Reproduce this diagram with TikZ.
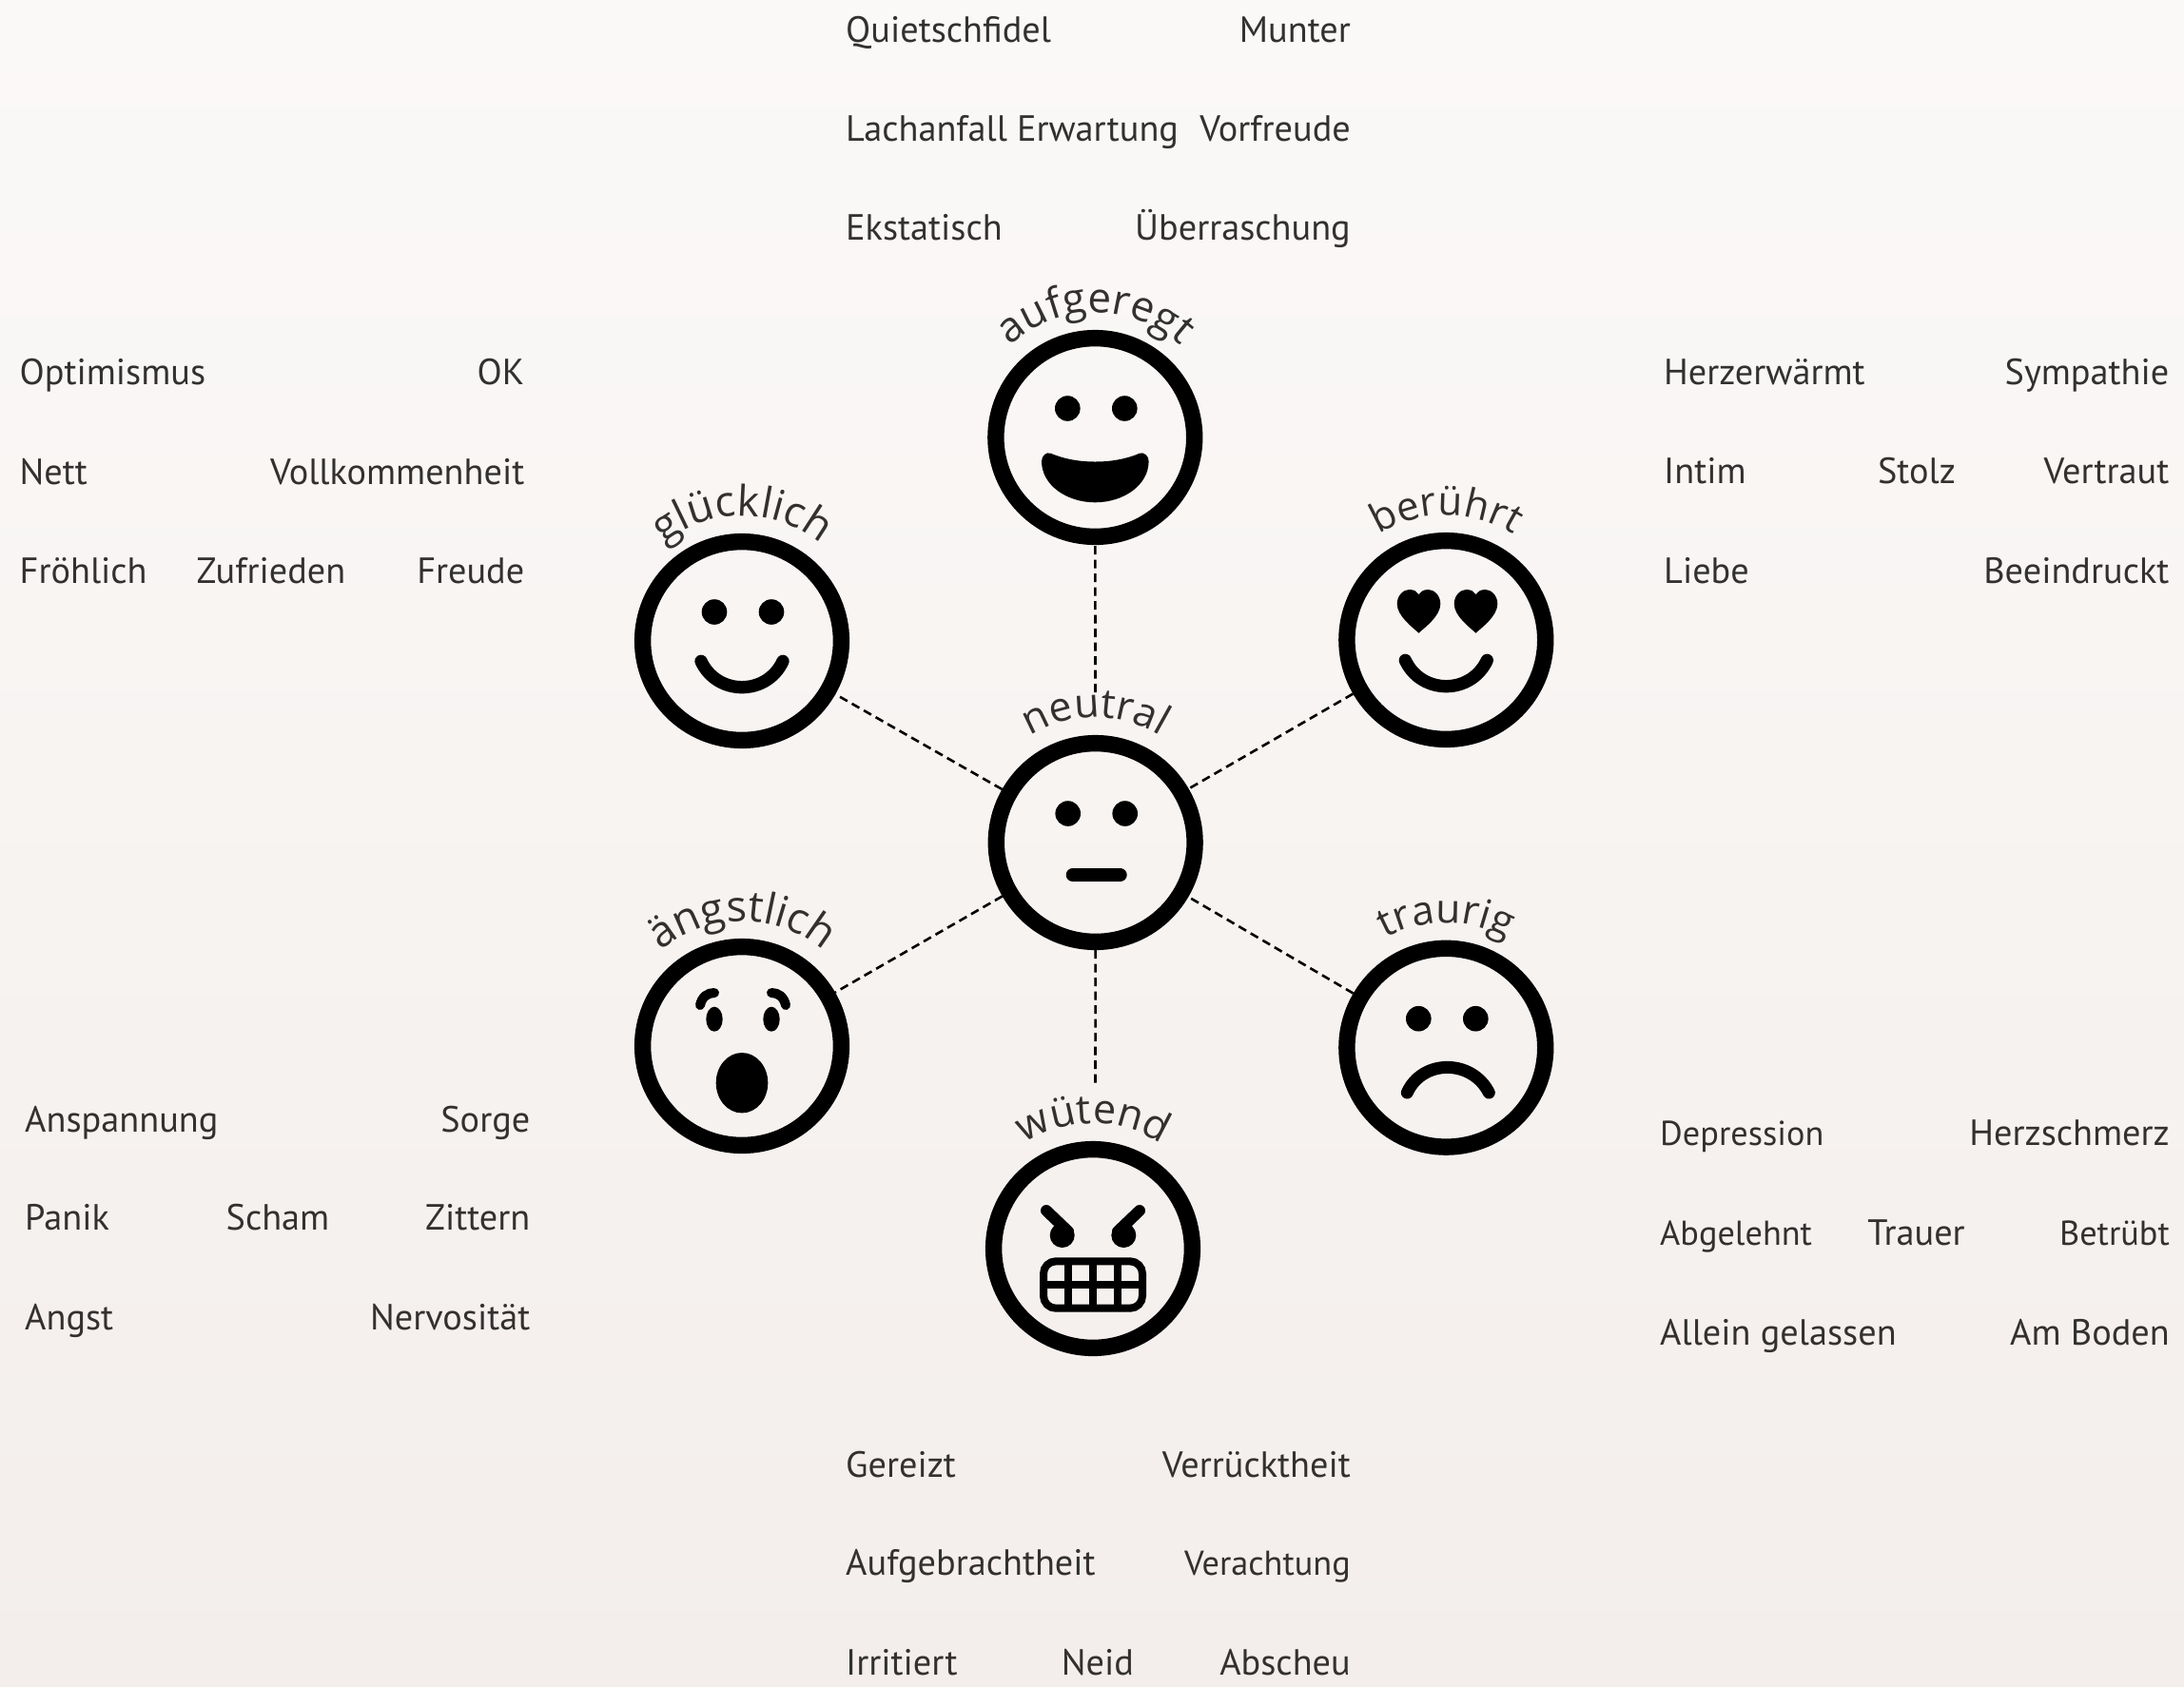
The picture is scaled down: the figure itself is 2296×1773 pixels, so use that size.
\documentclass[tikz,border=0pt]{standalone}
\usepackage{fontspec}
\setmainfont{PT Sans}
\newfontfamily\curvefont{Open Sans}
\usetikzlibrary{decorations.text}
\definecolor{txt}{HTML}{333030}
\definecolor{bgtop}{HTML}{FBF9F8}
\definecolor{bgbot}{HTML}{F3EEEB}
\tikzset{
  x=1pt,y=1pt,
  face/.style={circle,draw=black,line width=17.4pt,minimum size=208.8pt,inner sep=0pt},
  link/.style={draw=black,line width=2.6pt,dash pattern=on 9pt off 5.5pt},
  linkleft/.style={link,dash pattern=on 9pt off 5.4pt},
  solid feat/.style={fill=black,draw=none},
  stroke feat/.style={draw=black,line cap=round,fill=none},
  word/.style={font=\fontsize{38.3}{44}\selectfont,text=txt,inner sep=0pt,yshift=-1.3pt},
  wordl/.style={word,anchor=base west},
  wordr/.style={word,anchor=base east,xshift=1pt},
  wordc/.style={word,anchor=base},
  narrow/.style={font=\fontsize{36.3}{42}\selectfont},
}
\newcommand{\curvelabel}[3]{%
  \path[decorate,decoration={text along path,text align=center,
    text={|\fontsize{#2}{52}\curvefont\color{txt}|#3}}]
    (#1) ++(145:131.5) arc[start angle=145,end angle=35,radius=131.5];}
\newcommand{\faceeyes}{%
  \fill[solid feat] (-29,30.5) circle[radius=13.3] (31,30.5) circle[radius=13.3];}
\newcommand{\facesmile}{%
  \draw[stroke feat,line width=13.3pt] (-43,-21.3) .. controls (-26,-57.8) and (26,-57.8) .. (43,-21.3);}
\newcommand{\faceheart}{%
  \fill[solid feat] (0,7.3) .. controls (-6,13) and (-22.8,25) .. (-22.8,38)
    .. controls (-22.8,47) and (-16,53) .. (-10,53)
    .. controls (-5,53) and (-2,51) .. (0,48)
    .. controls (2,51) and (5,53) .. (10,53)
    .. controls (16,53) and (22.8,47) .. (22.8,38)
    .. controls (22.8,25) and (6,13) .. (0,7.3) -- cycle;}
\begin{document}
\begin{tikzpicture}
\useasboundingbox (0,0) rectangle (2296,-1773);
\shade[top color=bgtop,bottom color=bgbot] (0,0) rectangle (2296,-1773);
% faces
\node[face] (neu) at (1151.7,-886) {};
\node[face] (auf) at (1151.3,-460) {};
\node[face] (glu) at (780,-674) {};
\node[face] (ber) at (1520.3,-673) {};
\node[face] (ang) at (780,-1100) {};
\node[face] (tra) at (1520.3,-1101.7) {};
\node[face] (wut) at (1149,-1313) {};
\coordinate (neutop) at (1151.5,-728);
\coordinate (wuttop) at (1151.5,-1141);
% connectors
\draw[link] (neutop) -- (auf);
\draw[link] (neu) -- (wuttop);
\draw[linkleft] (neu) -- (glu);
\draw[linkleft] (neu) -- (ang);
\draw[link] (ber) -- (neu);
\draw[link] (tra) -- (neu);
% curved labels
\curvelabel{neu}{43}{neutral}
\curvelabel{auf}{44}{aufgeregt}
\curvelabel{glu}{44.5}{glücklich}
\curvelabel{ber}{42}{berührt}
\curvelabel{ang}{45}{ängstlich}
\curvelabel{tra}{42.5}{traurig}
\curvelabel{wut}{43}{wütend}
% features: neutral
\begin{scope}[shift={(neu)}]
\faceeyes
\draw[stroke feat,line width=14pt] (-24,-34) -- (26,-34);
\end{scope}
% aufgeregt
\begin{scope}[shift={(auf)}]
\faceeyes
\fill[solid feat] (-46.7,-16.7) .. controls (-32,-23) and (-16,-25.5) .. (0,-25.5)
  .. controls (16,-25.5) and (32,-23) .. (46.7,-16.7)
  .. controls (51,-15) and (56.3,-19) .. (56.3,-25)
  .. controls (56.3,-50) and (30,-68.3) .. (0,-68.3)
  .. controls (-30,-68.3) and (-56.3,-50) .. (-56.3,-25)
  .. controls (-56.3,-19) and (-51,-15) .. (-46.7,-16.7) -- cycle;
\end{scope}
% gluecklich
\begin{scope}[shift={(glu)}]
\faceeyes
\facesmile
\end{scope}
% beruehrt
\begin{scope}[shift={(ber)}]
\begin{scope}[xshift=-28.8pt]\faceheart\end{scope}
\begin{scope}[xshift=31.2pt]\faceheart\end{scope}
\facesmile
\end{scope}
% aengstlich
\begin{scope}[shift={(ang)}]
\fill[solid feat] (-29,28.3) ellipse[x radius=8.7,y radius=13];
\fill[solid feat] (31,28.3) ellipse[x radius=8.7,y radius=13];
\draw[stroke feat,line width=10pt] (-44,43) .. controls (-42,52) and (-36,56) .. (-29,56);
\draw[stroke feat,line width=10pt] (46,43) .. controls (44,52) and (38,56) .. (31,56);
\fill[solid feat] (0,-38.7) ellipse[x radius=27.3,y radius=31.7];
\end{scope}
% traurig
\begin{scope}[shift={(tra)}]
\faceeyes
\draw[stroke feat,line width=13pt] (-41,-47.3) .. controls (-25,-11.8) and (27,-11.8) .. (45,-47.3);
\end{scope}
% wuetend
\begin{scope}[shift={(wut)}]
\draw[stroke feat,line width=12pt] (-49,40) -- (-26,18);
\draw[stroke feat,line width=12pt] (49,40) -- (26,18);
\fill[solid feat] (-32.3,14) circle[radius=13];
\fill[solid feat] (32.3,14) circle[radius=13];
\draw[draw=black,line width=8pt,rounded corners=13pt] (-52,-13.3) rectangle (52,-62.7);
\draw[draw=black,line width=8.3pt] (-26,-13.3) -- (-26,-62.7) (0,-13.3) -- (0,-62.7) (26,-13.3) -- (26,-62.7) (-52,-38.3) -- (52,-38.3);
\end{scope}
% word groups
\node[wordl] (a1) at (889,-42.7) {Quietschfidel};
\node[wordr] (a2) at (1419,-42.7) {Munter};
\node[wordl] (a3) at (889,-146.7) {Lachanfall};
\node[wordc] (a4) at (1154,-146.7) {Erwartung};
\node[wordr] (a5) at (1419,-146.7) {Vorfreude};
\node[wordl] (a6) at (889,-250.7) {Ekstatisch};
\node[wordr] (a7) at (1419,-250.7) {Überraschung};
\node[wordl] (b1) at (20.5,-403) {Optimismus};
\node[wordr] (b2) at (550.5,-403) {OK};
\node[wordl] (b3) at (20.5,-507.7) {Nett};
\node[wordr] (b4) at (550.5,-507.7) {Vollkommenheit};
\node[wordl] (b5) at (20.5,-611.7) {Fröhlich};
\node[wordc] (b6) at (285,-611.7) {Zufrieden};
\node[wordr] (b7) at (550.5,-611.7) {Freude};
\node[wordl] (c1) at (1749,-402.7) {Herzerwärmt};
\node[wordr] (c2) at (2279.5,-402.7) {Sympathie};
\node[wordl] (c3) at (1749,-507.3) {Intim};
\node[wordc] (c4) at (2015,-507.3) {Stolz};
\node[wordr] (c5) at (2279.5,-507.3) {Vertraut};
\node[wordl] (c6) at (1749,-611.7) {Liebe};
\node[wordr] (c7) at (2279.5,-611.7) {Beeindruckt};
\node[wordl] (d1) at (26,-1189.3) {Anspannung};
\node[wordr] (d2) at (556.5,-1189.3) {Sorge};
\node[wordl] (d3) at (26,-1292.3) {Panik};
\node[wordc] (d4) at (292,-1292.3) {Scham};
\node[wordr] (d5) at (556.5,-1292.3) {Zittern};
\node[wordl] (d6) at (26,-1396.7) {Angst};
\node[wordr] (d7) at (556.5,-1396.7) {Nervosität};
\node[wordl,narrow] (e1) at (1745,-1203.3) {Depression};
\node[wordr] (e2) at (2280,-1203.3) {Herzschmerz};
\node[wordl,narrow] (e3) at (1745,-1307.7) {Abgelehnt};
\node[wordc] (e4) at (2014.5,-1307.7) {Trauer};
\node[wordr,narrow] (e5) at (2280,-1307.7) {Betrübt};
\node[wordl] (e6) at (1745,-1412.7) {Allein gelassen};
\node[wordr] (e7) at (2280,-1412.7) {Am Boden};
\node[wordl] (f1) at (889,-1552) {Gereizt};
\node[wordr] (f2) at (1419,-1552) {Verrücktheit};
\node[wordl] (f3) at (889,-1655.3) {Aufgebrachtheit};
\node[wordr,narrow] (f4) at (1419,-1655.3) {Verachtung};
\node[wordl] (f5) at (889,-1759.7) {Irritiert};
\node[wordc] (f6) at (1154,-1759.7) {Neid};
\node[wordr] (f7) at (1419,-1759.7) {Abscheu};
\end{tikzpicture}
\end{document}
